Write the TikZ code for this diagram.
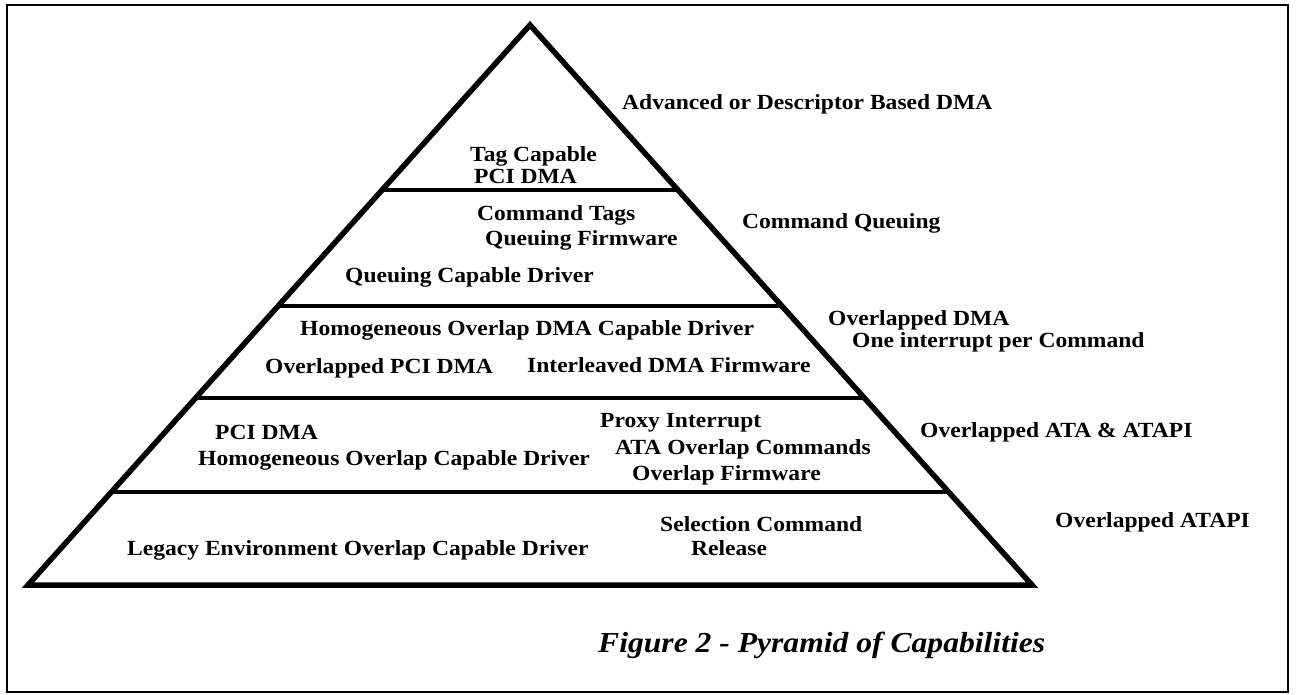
\documentclass[tikz,border=0pt]{standalone}
\usepackage{fontspec}
\setmainfont{Liberation Serif}[FakeStretch=1.09]
\usetikzlibrary{calc}
\tikzset{
  frame/.style={draw=black, line width=2.5pt},
  pyr/.style={draw=black, line width=5.5pt, line join=miter},
  tier/.style={draw=black, line width=4pt},
  lbl/.style={anchor=base west, inner sep=0pt, font=\fontsize{21.6}{24}\selectfont\bfseries},
  caption/.style={anchor=base west, inner sep=0pt, font=\fontsize{29}{32}\selectfont\bfseries\itshape}
}
\begin{document}
\begin{tikzpicture}[x=1pt, y=-1pt]
\useasboundingbox (0,0) rectangle (1296,695);
% outer frame
\draw[frame] (7,5) rectangle (1288,692);

% pyramid outline
\coordinate (A) at (530,25);
\coordinate (L) at (28,585);
\coordinate (R) at (1032,585);
\draw[pyr] (A) -- (R) -- (L) -- cycle;

% tier dividers
\foreach \t/\n in {0.2946/1, 0.5018/2, 0.6661/3, 0.8339/4} {
  \coordinate (l\n) at ($(A)!\t!(L)$);
  \coordinate (r\n) at ($(A)!\t!(R)$);
  \draw[tier] (l\n) -- (r\n);
}

% tier 1
\node[lbl] (tag1) at (470,162) {Tag Capable};
\node[lbl] (tag2) at (474,184) {PCI DMA};
\node[lbl] (adv)  at (622,110) {Advanced or Descriptor Based DMA};

% tier 2
\node[lbl] (cq1) at (477,221) {Command Tags};
\node[lbl] (cq2) at (485,246) {Queuing Firmware};
\node[lbl] (cq3) at (345,282) {Queuing Capable Driver};
\node[lbl] (cq)  at (742,229) {Command Queuing};

% tier 3
\node[lbl] (od1) at (300,335) {Homogeneous Overlap DMA Capable Driver};
\node[lbl] (od2) at (265,373) {Overlapped PCI DMA};
\node[lbl] (od3) at (527,372) {Interleaved DMA Firmware};
\node[lbl] (od)  at (828,325) {Overlapped DMA};
\node[lbl] (odb) at (852,347) {One interrupt per Command};

% tier 4
\node[lbl] (oa1) at (600,427) {Proxy Interrupt};
\node[lbl] (oa2) at (215,439) {PCI DMA};
\node[lbl] (oa3) at (615,454) {ATA Overlap Commands};
\node[lbl] (oa4) at (198,465) {Homogeneous Overlap Capable Driver};
\node[lbl] (oa5) at (632,480) {Overlap Firmware};
\node[lbl] (oa)  at (920,437) {Overlapped ATA \& ATAPI};

% tier 5
\node[lbl] (lg1) at (660,531) {Selection Command};
\node[lbl] (lg2) at (127,555) {Legacy Environment Overlap Capable Driver};
\node[lbl] (lg3) at (691,555) {Release};
\node[lbl] (lg)  at (1055,527) {Overlapped ATAPI};

% caption
\node[caption] (cap) at (598,652) {Figure 2 - Pyramid of Capabilities};
\end{tikzpicture}
\end{document}
